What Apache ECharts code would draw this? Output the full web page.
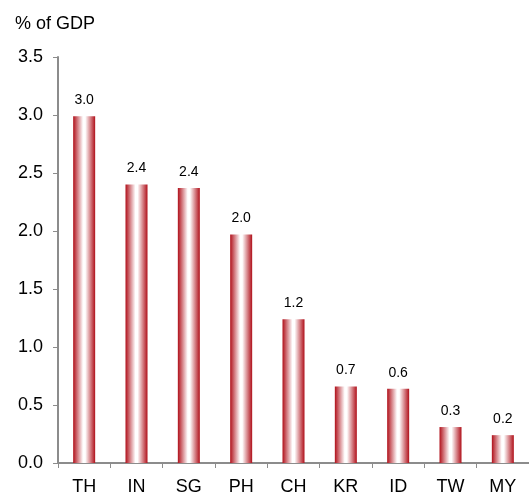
<!DOCTYPE html>
<html>
<head>
<meta charset="UTF-8">
<title>% of GDP</title>
<script src="https://cdn.jsdelivr.net/npm/echarts@6/dist/echarts.min.js"></script>
<style>
  html, body { margin: 0; padding: 0; background: #fff; }
  #main { width: 529px; height: 496px; }
</style>
</head>
<body>
<div id="main"></div>
<script type="text/javascript">
    var categories = ["TH", "IN", "SG", "PH", "CH", "KR", "ID", "TW", "MY"];
    var values = [2.99, 2.40, 2.37, 1.97, 1.24, 0.66, 0.64, 0.31, 0.24];
    var yTicks = { min: 0, max: 3.5, interval: 0.5 };

    var myChart = echarts.init(document.getElementById('main'));
    var fontFamily = '"Liberation Sans", Arial, sans-serif';
    var axisGray = '#8c8c8c';

    var option = {
        animation: false,
        textStyle: { fontFamily: fontFamily },
        title: {
            text: '% of GDP',
            left: 10,
            top: 10,
            textStyle: { fontSize: 18, fontWeight: 'normal', color: '#000', fontFamily: fontFamily }
        },
        grid: { left: 58, top: 57, right: -2, bottom: 31, containLabel: false },
        xAxis: {
            type: 'category',
            data: categories,
            axisLine: { lineStyle: { color: axisGray, width: 2 } },
            axisTick: { show: true, length: 5, alignWithLabel: false, lineStyle: { color: axisGray } },
            axisLabel: { color: '#000', fontSize: 18, margin: 15, interval: 0, fontFamily: fontFamily }
        },
        yAxis: {
            type: 'value',
            min: yTicks.min,
            max: yTicks.max,
            interval: yTicks.interval,
            splitLine: { show: false },
            axisLine: { show: true, lineStyle: { color: axisGray, width: 2 } },
            axisTick: { show: true, length: 5, lineStyle: { color: axisGray } },
            axisLabel: {
                color: '#000', fontSize: 18, margin: 15, fontFamily: fontFamily,
                formatter: function (v) { return v.toFixed(1); }
            }
        },
        series: [{
            type: 'bar',
            data: values,
            barWidth: 22,
            itemStyle: {
                color: new echarts.graphic.LinearGradient(0, 0, 1, 0, [
                    { offset: 0, color: '#b0101a' },
                    { offset: 0.45, color: '#ffffff' },
                    { offset: 0.55, color: '#ffffff' },
                    { offset: 1, color: '#b0101a' }
                ])
            },
            label: {
                show: true,
                position: 'top',
                distance: 9,
                color: '#000',
                fontSize: 14,
                fontFamily: fontFamily,
                formatter: function (p) { return p.value.toFixed(1); }
            }
        }]
    };

    myChart.setOption(option);
</script>
</body>
</html>
